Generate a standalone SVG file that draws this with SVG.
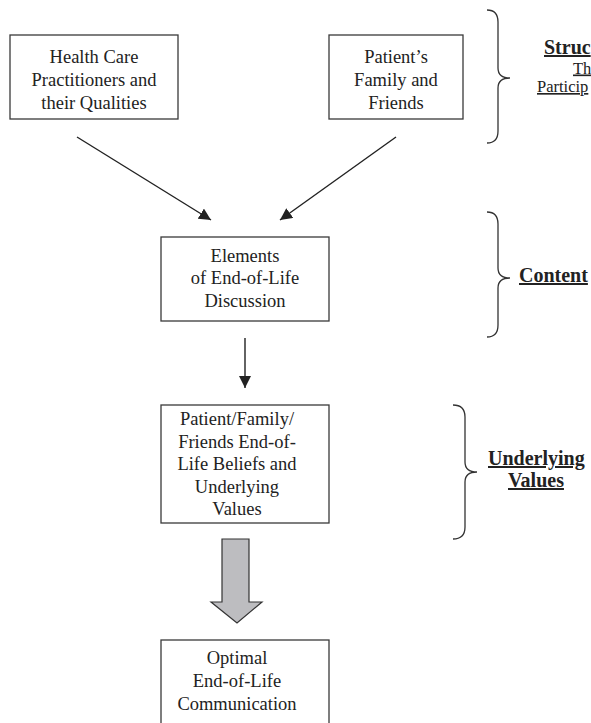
<svg xmlns="http://www.w3.org/2000/svg" width="591" height="723" viewBox="0 0 591 723">
<style>
  .box { fill: #ffffff; stroke: #3a3a3a; stroke-width: 1.3; }
  .t { font-family: "Liberation Serif", "Times New Roman", serif; font-size: 18.5px; fill: #222222; text-anchor: middle; }
  .ts { font-family: "Liberation Serif", "Times New Roman", serif; font-size: 16.5px; fill: #222222; text-decoration: underline; }
  .b { font-family: "Liberation Serif", "Times New Roman", serif; font-size: 20px; font-weight: bold; fill: #222222; text-decoration: underline; }
  .conn { stroke: #222222; stroke-width: 1.4; fill: none; }
  .brace { stroke: #333333; stroke-width: 1.3; fill: none; }
</style>
<defs>
  <marker id="ah" viewBox="0 0 10 10" refX="10" refY="5" markerWidth="12" markerHeight="12" markerUnits="userSpaceOnUse" orient="auto">
    <path d="M0,0 L10,5 L0,10 z" fill="#222222"/>
  </marker>
</defs>

<g id="node-hcp">
  <rect class="box" x="10" y="35" width="168" height="84"/>
  <text class="t" x="94" y="63">Health Care</text>
  <text class="t" x="94" y="86">Practitioners and</text>
  <text class="t" x="94" y="109">their Qualities</text>
</g>

<g id="node-family">
  <rect class="box" x="329" y="35" width="134" height="84"/>
  <text class="t" x="396" y="63">Patient’s</text>
  <text class="t" x="396" y="86">Family and</text>
  <text class="t" x="396" y="109">Friends</text>
</g>

<g id="node-elements">
  <rect class="box" x="161" y="237" width="168" height="84"/>
  <text class="t" x="245" y="262">Elements</text>
  <text class="t" x="245" y="284">of End-of-Life</text>
  <text class="t" x="245" y="307">Discussion</text>
</g>

<g id="node-beliefs">
  <rect class="box" x="161" y="405" width="168" height="118"/>
  <text class="t" x="237" y="425">Patient/Family/</text>
  <text class="t" x="237" y="448">Friends End-of-</text>
  <text class="t" x="237" y="470">Life Beliefs and</text>
  <text class="t" x="237" y="493">Underlying</text>
  <text class="t" x="237" y="515">Values</text>
</g>

<g id="node-optimal">
  <rect class="box" x="161" y="640" width="168" height="100"/>
  <text class="t" x="237" y="664">Optimal</text>
  <text class="t" x="237" y="687">End-of-Life</text>
  <text class="t" x="237" y="710">Communication</text>
</g>

<g id="connectors">
  <line class="conn" x1="77" y1="137" x2="211" y2="220" marker-end="url(#ah)"/>
  <line class="conn" x1="396" y1="137" x2="280" y2="220" marker-end="url(#ah)"/>
  <line class="conn" x1="245" y1="338" x2="245" y2="388" marker-end="url(#ah)"/>
  <path d="M222,539 L249,539 L249,602 L262,602 L237,623 L211,602 L222,602 Z" fill="#bdbdc0" stroke="#333333" stroke-width="1.2"/>
</g>

<g id="label-structure">
  <path class="brace" d="M487,10 Q498,10 498,22 L498,68 Q498,78 510,78 Q498,78 498,88 L498,131 Q498,143 487,143"/>
  <text class="b" x="544" y="54">Struc</text>
  <text class="ts" x="573" y="73.5">Th</text>
  <text class="ts" x="537" y="92">Particip</text>
</g>

<g id="label-content">
  <path class="brace" d="M487,212 Q498,212 498,224 L498,268 Q498,278 510,278 Q498,278 498,288 L498,325 Q498,337 487,337"/>
  <text class="b" x="519" y="282">Content</text>
</g>

<g id="label-values">
  <path class="brace" d="M453,405 Q465,405 465,417 L465,462 Q465,472 477,472 Q465,472 465,482 L465,527 Q465,539 453,539"/>
  <text class="b" x="488" y="465">Underlying</text>
  <text class="b" x="508" y="487">Values</text>
</g>
</svg>
